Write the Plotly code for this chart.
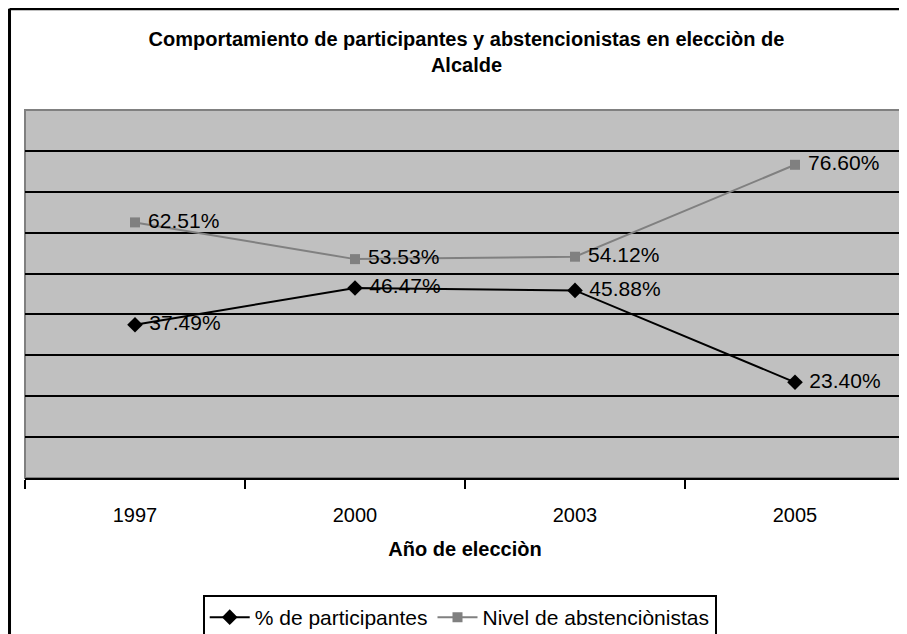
import plotly.graph_objects as go

years = ["1997", "2000", "2003", "2005"]
participantes = [0.3749, 0.4647, 0.4588, 0.2340]
abstencionistas = [0.6251, 0.5353, 0.5412, 0.7660]
labels_part = ["37.49%", "46.47%", "45.88%", "23.40%"]
labels_abst = ["62.51%", "53.53%", "54.12%", "76.60%"]

font = "Liberation Sans, Arial, sans-serif"

fig = go.Figure()
fig.add_trace(go.Scatter(
    x=years, y=participantes, name="% de participantes",
    mode="lines+markers+text", text=labels_part, texttemplate=" %{text}",
    textposition="middle right",
    line=dict(color="black", width=2),
    marker=dict(symbol="diamond", size=12, color="black"),
    textfont=dict(size=21, color="black", family=font),
    cliponaxis=False,
))
fig.add_trace(go.Scatter(
    x=years, y=abstencionistas, name="Nivel de abstenciònistas",
    mode="lines+markers+text", text=labels_abst, texttemplate=" %{text}",
    textposition="middle right",
    line=dict(color="#808080", width=2),
    marker=dict(symbol="square", size=10, color="#808080"),
    textfont=dict(size=21, color="black", family=font),
    cliponaxis=False,
))

# page has an 8px body margin, so the figure is sized to fill the rest
fig.update_layout(
    width=899, height=626,
    margin=dict(l=17, r=2, t=102, b=156, autoexpand=False),
    paper_bgcolor="white", plot_bgcolor="#C0C0C0",
    font=dict(family=font, color="black", size=18),
    title=dict(
        text="<b>Comportamiento de participantes y abstencionistas en elecciòn de<br>Alcalde</b>",
        x=0.51, xanchor="center", y=0.94, yanchor="middle",
        font=dict(size=20, family=font),
    ),
    showlegend=True,
    legend=dict(
        orientation="h", x=0.494, xanchor="center", y=-0.318, yanchor="top",
        bordercolor="black", borderwidth=2, bgcolor="white",
        font=dict(size=21, family=font), itemwidth=40, tracegroupgap=0,
    ),
)
fig.update_xaxes(
    type="category", range=[-0.5, 3.5], showgrid=False, ticks="outside",
    ticklen=9, tickwidth=2, tickcolor="black", tickson="boundaries",
    showline=True, linecolor="black", linewidth=2, tickfont=dict(size=20),
    ticklabelstandoff=18, automargin=False,
    title=dict(text="<b>Año de elecciòn</b>", font=dict(size=20), standoff=17),
)
fig.update_yaxes(
    range=[0, 0.9], dtick=0.1, showticklabels=False, showgrid=True,
    gridcolor="black", gridwidth=2, zeroline=False, showline=False,
    automargin=False,
)
# plot border (gray) and outer frame
fig.add_shape(type="rect", xref="paper", yref="paper", x0=0, x1=1, y0=0, y1=1,
              line=dict(color="#808080", width=2), layer="below")
fig.add_shape(type="line", xref="paper", yref="paper", x0=-0.0176, x1=1.01, y0=1.275, y1=1.275,
              line=dict(color="black", width=3))
fig.add_shape(type="line", xref="paper", yref="paper", x0=-0.0176, x1=-0.0176, y0=1.275, y1=-0.45,
              line=dict(color="black", width=3))

fig.write_html("out.html")
